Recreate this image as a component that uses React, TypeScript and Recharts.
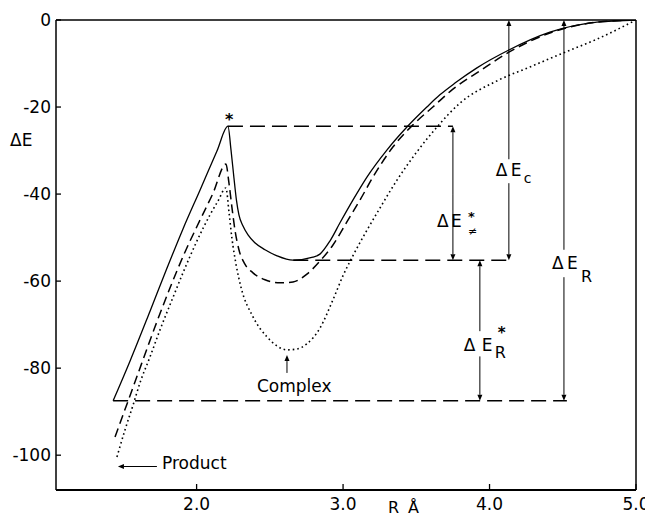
import { LineChart, Line, XAxis, YAxis, ReferenceLine, ReferenceDot } from "recharts";

const FONT = "DejaVu Sans";

// R (Å) / ΔE points, one pair of arrays per curve
const solidR = [1.43, 1.545, 1.682, 1.798, 1.907, 2.023, 2.139, 2.214, 2.235, 2.255, 2.272, 2.289, 2.316, 2.351, 2.398, 2.467, 2.549, 2.658, 2.794, 2.842, 2.91, 2.979, 3.067, 3.163, 3.299, 3.436, 3.572, 3.661, 3.764, 3.914, 4.132, 4.412, 4.733, 5.0];
const solidE = [-87.5, -78.4, -66.9, -57.0, -48.0, -39.1, -30.1, -24.4, -29.9, -36.3, -41.4, -44.8, -47.3, -49.4, -51.2, -52.8, -54.2, -55.2, -54.5, -53.8, -50.8, -46.6, -41.4, -36.1, -29.9, -24.6, -20.0, -17.2, -14.5, -11.0, -6.9, -2.8, -0.5, 0];

const dashR = [1.443, 1.579, 1.716, 1.818, 1.921, 2.023, 2.112, 2.2, 2.221, 2.241, 2.262, 2.289, 2.33, 2.385, 2.467, 2.569, 2.658, 2.753, 2.842, 2.931, 3.026, 3.115, 3.204, 3.34, 3.477, 3.613, 3.75, 3.934, 4.132, 4.412, 4.733, 5.0];
const dashE = [-95.8, -83.2, -70.5, -61.6, -53.3, -46.0, -39.8, -33.1, -37.5, -43.0, -48.3, -52.8, -56.1, -58.1, -59.7, -60.4, -60.2, -58.4, -55.4, -51.7, -46.4, -41.4, -36.1, -29.2, -24.1, -20.0, -15.9, -11.7, -7.4, -3.0, -0.5, 0];

const dotR = [1.456, 1.511, 1.566, 1.613, 1.682, 1.75, 1.832, 1.907, 2.002, 2.091, 2.146, 2.2, 2.221, 2.241, 2.269, 2.303, 2.385, 2.48, 2.549, 2.617, 2.685, 2.753, 2.842, 2.931, 2.999, 3.067, 3.163, 3.252, 3.368, 3.504, 3.641, 3.798, 4.05, 4.275, 4.501, 4.733, 5.0];
const dotE = [-100.4, -94.2, -88.5, -83.4, -77.4, -71.2, -64.3, -58.1, -50.8, -44.8, -41.6, -38.6, -44.1, -50.1, -56.1, -61.4, -68.2, -72.8, -74.9, -75.8, -75.6, -74.4, -70.8, -64.3, -58.8, -54.2, -48.3, -43.2, -36.8, -30.3, -24.6, -19.1, -14.0, -10.8, -7.6, -4.4, 0];

const xTicks = [2, 3, 4, 5];
const yTicks = [0, -20, -40, -60, -80, -100];

// dashed energy levels: transition state, complex, product
const levelE = [-24.4, -55.2, -87.5];
const levelFrom = [2.214, 2.66, 1.43];
const levelTo = [3.75, 4.15, 4.528];

// arrows [r1, e1, r2, e2], head at the second point
const arrows: number[][] = [
  [3.75, -40, 3.75, -24.4],
  [3.75, -40, 3.75, -55.2],
  [4.132, -32.0, 4.132, 0],
  [4.132, -37.5, 4.132, -55.2],
  [3.934, -71.5, 3.934, -55.2],
  [3.934, -77.3, 3.934, -87.5],
  [4.508, -52.8, 4.508, 0],
  [4.508, -59.1, 4.508, -87.5],
  [2.617, -81.1, 2.617, -77.0],
  [1.729, -102.6, 1.463, -102.6],
];

const toPts = (r: number[], e: number[]) => r.map((v, i) => ({ r: v, e: e[i] }));

type Piece = { t: string; dx: number; dy: number; size?: number; bold?: boolean };

// one <text> per label, pieces placed as tspans
const textShape = (pieces: Piece[]) => (p: any) => (
  <text fontFamily={FONT} fill="#000">
    {pieces.map((q, i) => (
      <tspan
        key={i}
        x={p.cx + q.dx}
        y={p.cy + q.dy}
        fontSize={q.size ?? 17}
        fontWeight={q.bold ? "bold" : "normal"}
      >
        {q.t}
      </tspan>
    ))}
  </text>
);

const labels: { r: number; e: number; pieces: Piece[] }[] = [
  {
    r: 3.75, e: -46.2,
    pieces: [
      { t: "Δ", dx: -16, dy: 6 },
      { t: "E", dx: -2, dy: 6 },
      { t: "*", dx: 15, dy: 0, size: 13, bold: true },
      { t: "≠", dx: 15, dy: 14, size: 11 },
    ],
  },
  {
    r: 4.132, e: -34.5,
    pieces: [
      { t: "Δ", dx: -13, dy: 6 },
      { t: "E", dx: 2, dy: 6 },
      { t: "c", dx: 15, dy: 13, size: 14 },
    ],
  },
  {
    r: 3.934, e: -74.7,
    pieces: [
      { t: "Δ", dx: -16, dy: 6 },
      { t: "E", dx: 2, dy: 6 },
      { t: "R", dx: 15, dy: 13, size: 16 },
      { t: "*", dx: 18, dy: -7, size: 15, bold: true },
    ],
  },
  {
    r: 4.508, e: -56.1,
    pieces: [
      { t: "Δ", dx: -12, dy: 5 },
      { t: "E", dx: 3, dy: 5 },
      { t: "R", dx: 17, dy: 18, size: 16 },
    ],
  },
  { r: 2.412, e: -85.5, pieces: [{ t: "Complex", dx: 0, dy: 0 }] },
  { r: 1.764, e: -103.2, pieces: [{ t: "Product", dx: 0, dy: 0 }] },
  { r: 2.228, e: -21.8, pieces: [{ t: "*", dx: -5, dy: 10, size: 16, bold: true }] },
];

const ArrowLine = (p: any) => {
  const { x1, y1, x2, y2 } = p;
  const len = Math.hypot(x2 - x1, y2 - y1) || 1;
  const ux = (x2 - x1) / len;
  const uy = (y2 - y1) / len;
  const bx = x2 - ux * 6;
  const by = y2 - uy * 6;
  return (
    <g>
      <line x1={x1} y1={y1} x2={bx} y2={by} stroke="#000" strokeWidth={1} />
      <path
        d={`M${x2},${y2}L${bx - uy * 2.5},${by + ux * 2.5}L${bx + uy * 2.5},${by - ux * 2.5}Z`}
        fill="#000"
      />
    </g>
  );
};

const XTick = ({ x, y, payload }: any) => (
  <g>
    <line x1={x} y1={y} x2={x} y2={y - 6} stroke="#000" strokeWidth={1.3} />
    <text x={x} y={y + 20} textAnchor="middle" fontSize={17} fontFamily={FONT} fill="#000">
      {Number(payload.value).toFixed(1)}
    </text>
  </g>
);

const YTick = ({ x, y, payload }: any) => (
  <g>
    <line x1={x} y1={y} x2={x + 5} y2={y} stroke="#000" strokeWidth={1.3} />
    <text x={x - 5} y={y + 6} textAnchor="end" fontSize={17} fontFamily={FONT} fill="#000">
      {payload.value}
    </text>
  </g>
);

const YTitle = ({ viewBox }: any) => (
  <text x={viewBox.x + 2} y={viewBox.y + 126} fontSize={17} fontFamily={FONT} fill="#000">
    ΔE
  </text>
);

const XTitle = ({ viewBox }: any) => (
  <text y={viewBox.y + 23} fontSize={16} fontFamily={FONT} fill="#000">
    <tspan x={viewBox.x + 332}>R</tspan>
    <tspan x={viewBox.x + 352}>Å</tspan>
  </text>
);

export default function App() {
  return (
    <div style={{ background: "#fff" }}>
      <LineChart width={645} height={510} margin={{ top: 12, right: 17, bottom: 0, left: 0 }}>
        <XAxis
          type="number"
          dataKey="r"
          domain={[1.04, 5]}
          allowDataOverflow
          ticks={xTicks}
          tick={<XTick />}
          tickLine={false}
          tickSize={0}
          tickMargin={0}
          height={28}
          axisLine={{ stroke: "#000", strokeWidth: 1.8 }}
          label={<XTitle />}
        />
        <YAxis
          type="number"
          dataKey="e"
          domain={[-108, 0]}
          allowDataOverflow
          ticks={yTicks}
          tick={<YTick />}
          tickLine={false}
          tickSize={0}
          tickMargin={0}
          width={48}
          axisLine={{ stroke: "#000", strokeWidth: 1.5 }}
          label={<YTitle />}
        />
        <ReferenceLine y={0} stroke="#000" strokeWidth={1.5} />
        <ReferenceLine x={5} stroke="#000" strokeWidth={1.5} />
        {levelE.map((e, i) => (
          <ReferenceLine
            key={`lv${i}`}
            segment={[{ x: levelFrom[i], y: e }, { x: levelTo[i], y: e }]}
            stroke="#000"
            strokeWidth={1.5}
            strokeDasharray="15 7"
          />
        ))}
        {arrows.map((a, i) => (
          <ReferenceLine
            key={`ar${i}`}
            segment={[{ x: a[0], y: a[1] }, { x: a[2], y: a[3] }]}
            shape={ArrowLine}
          />
        ))}
        <Line
          data={toPts(solidR, solidE)}
          dataKey="e"
          type="monotone"
          stroke="#000"
          strokeWidth={1.3}
          dot={false}
          activeDot={false}
          isAnimationActive={false}
        />
        <Line
          data={toPts(dashR, dashE)}
          dataKey="e"
          type="monotone"
          stroke="#000"
          strokeWidth={1.5}
          strokeDasharray="9 5"
          dot={false}
          activeDot={false}
          isAnimationActive={false}
        />
        <Line
          data={toPts(dotR, dotE)}
          dataKey="e"
          type="monotone"
          stroke="#000"
          strokeWidth={1.6}
          strokeDasharray="1.6 3"
          dot={false}
          activeDot={false}
          isAnimationActive={false}
        />
        {labels.map((l, i) => (
          <ReferenceDot key={`lb${i}`} x={l.r} y={l.e} r={0} shape={textShape(l.pieces)} />
        ))}
      </LineChart>
    </div>
  );
}
